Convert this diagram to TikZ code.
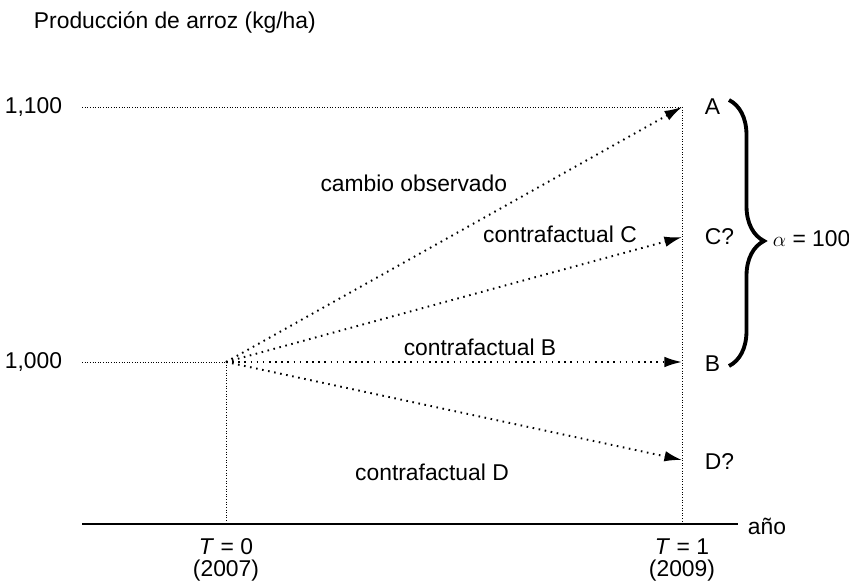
\documentclass[tikz,border=0pt]{standalone}
\usepackage{fontspec}
\setmainfont{Liberation Sans}
\usetikzlibrary{arrows.meta,decorations.pathreplacing}

\begin{document}
\begin{tikzpicture}[x=0.02cm,y=-0.02cm]
\fontsize{13}{15}\selectfont
\tikzset{
  rejilla/.style={densely dotted,line width=0.5pt},
  flecha/.style={dash pattern=on 0.9pt off 2.6pt,line width=1.1pt,-{Latex[length=10pt,width=6pt]}},
  rotulo/.style={inner sep=2pt},
  tiempo/.style={inner sep=0.5pt}
}
\useasboundingbox (0,0) rectangle (849,581);
\node[anchor=west] (titulo) at (26,22) {Producción de arroz (kg/ha)};
\node[anchor=east] (y1) at (70,107) {1,100};
\node[anchor=east] (y0) at (70,362) {1,000};
\coordinate (g1) at (82,107);
\coordinate (g0) at (82,362);
\coordinate (o) at (226,362);
\coordinate (t0) at (226,524);
\coordinate (t1) at (682,524);
\coordinate (pa) at (682,107);
\coordinate (pc) at (682,237);
\coordinate (pb) at (682,362);
\coordinate (pd) at (682,460);
\coordinate (ejei) at (82,524);
\coordinate (ejef) at (738,524);
% rejilla
\path[draw,rejilla] (g1) -- (pa);
\path[draw,rejilla] (g0) -- (o);
\path[draw,rejilla] (o) -- (t0);
\path[draw,rejilla] (pa) -- (t1);
% eje
\path[draw,line width=0.8pt] (ejei) -- (ejef);
\node[anchor=west] (anio) at (740,526) {año};
\node[tiempo] (tc0) at (226,547) {\textit{T} = 0};
\node[tiempo] (a0) at (226,571) {(2007)};
\node[tiempo] (tc1) at (682,547) {\textit{T} = 1};
\node[tiempo] (a1) at (682,571) {(2009)};
% flechas
\path[draw,flecha] (o) -- (pa);
\path[draw,flecha] (o) -- (pc);
\path[draw,flecha] (o) -- (pb);
\path[draw,flecha] (o) -- (pd);
\node[anchor=west] (a) at (697,107) {A};
\node[anchor=west] (c) at (697,237) {C?};
\node[anchor=west] (b) at (697,364) {B};
\node[anchor=west] (d) at (697,462) {D?};
\node[rotulo,anchor=east] (lobs) at (511,183) {cambio observado};
\node[rotulo] (lc) at (560,234) {contrafactual C};
\node[rotulo] (lb) at (480,347) {contrafactual B};
\node[rotulo] (ld) at (432,472) {contrafactual D};
% llave
\path[draw,line width=2.2pt,decorate,decoration={brace,amplitude=0.7cm,aspect=0.53}] (729,100) -- (729,366);
\node[anchor=west] (alfa) at (765,239) {$\alpha$ = 100};
\end{tikzpicture}
\end{document}
